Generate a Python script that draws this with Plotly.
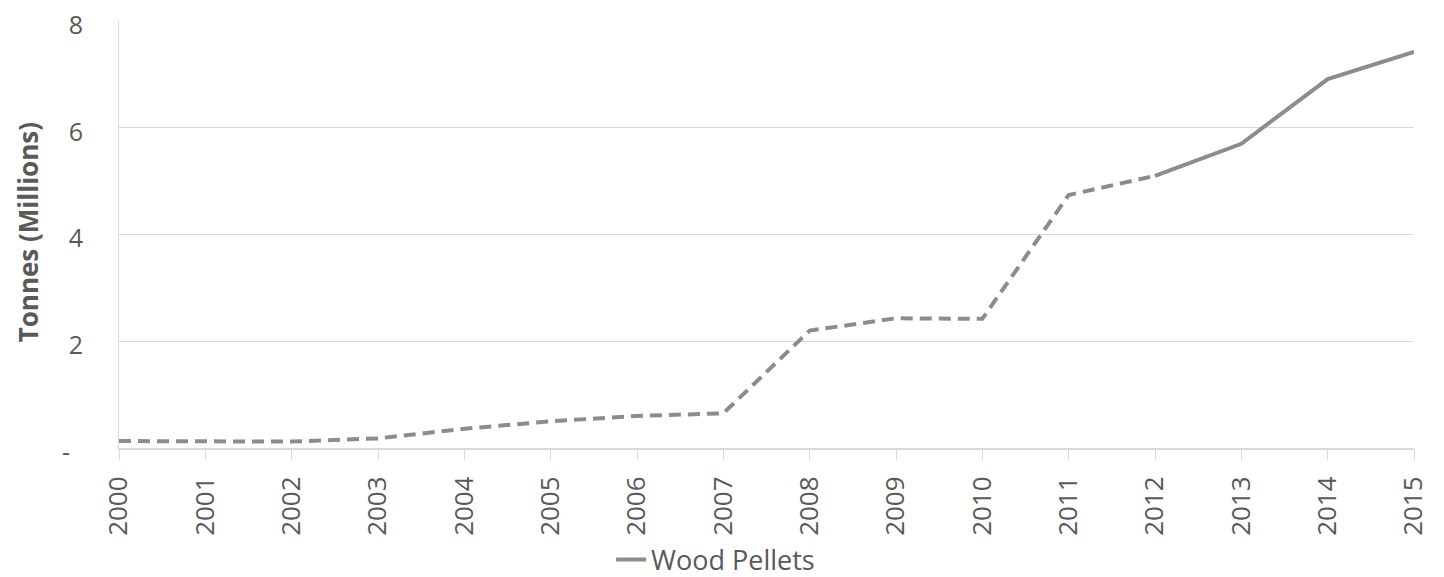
import plotly.graph_objects as go

years = list(range(2000, 2016))
tonnes_millions = [0.13, 0.12, 0.12, 0.18, 0.36, 0.50, 0.60, 0.65, 2.20, 2.43, 2.42, 4.74, 5.10, 5.70, 6.91, 7.42]
series_name = "Wood Pellets"
ytick_vals = [0, 2, 4, 6, 8]
ytick_text = ["-\u00a0\u00a0", "2", "4", "6", "8"]
y_title = "Tonnes (Millions)"

split = years.index(2012)
line_color = "#8c8c8c"
text_color = "#595959"
grid_color = "#d9d9d9"
font_family = "Open Sans, Lato, sans-serif"

fig = go.Figure()
fig.add_trace(go.Scatter(
    x=years[:split + 1], y=tonnes_millions[:split + 1], mode="lines",
    line=dict(color=line_color, width=4, dash="12px,7px"),
    showlegend=False, name=series_name,
))
fig.add_trace(go.Scatter(
    x=years[split:], y=tonnes_millions[split:], mode="lines",
    line=dict(color=line_color, width=4),
    showlegend=True, name=series_name,
))

fig.update_layout(
    width=1444, height=577,
    margin=dict(l=111, r=38, t=13, b=137, autoexpand=False),
    paper_bgcolor="white", plot_bgcolor="white",
    font=dict(family=font_family, color=text_color),
    legend=dict(orientation="h", x=0.38, y=-0.262, xanchor="left", yanchor="middle",
                font=dict(size=27, color=text_color)),
    xaxis=dict(
        range=[2000, 2015], tickmode="array", tickvals=years,
        ticktext=[str(y) for y in years], tickangle=-90,
        tickfont=dict(size=26, color=text_color),
        showgrid=False,
        showline=True, linecolor=grid_color, linewidth=2,
        ticks="outside", ticklen=10, tickcolor=grid_color, tickwidth=1,
        zeroline=False, automargin=False, ticklabelstandoff=6,
    ),
    yaxis=dict(
        range=[0, 8], tickmode="array", tickvals=ytick_vals, ticktext=ytick_text,
        tickfont=dict(size=25, color=text_color),
        showgrid=True, gridcolor=grid_color, gridwidth=1,
        showline=True, linecolor=grid_color, linewidth=1,
        zeroline=False, ticks="", ticklabelstandoff=30, ticklabelshift=4,
        automargin=False, ticklabeloverflow="allow",
    ),
    annotations=[dict(
        text="<b>" + y_title + "</b>", xref="paper", yref="paper",
        x=-0.0703, y=0.505, xanchor="center", yanchor="middle",
        textangle=-90, showarrow=False,
        font=dict(size=26, color=text_color, family=font_family),
    )],
)

fig.write_html("out.html")
